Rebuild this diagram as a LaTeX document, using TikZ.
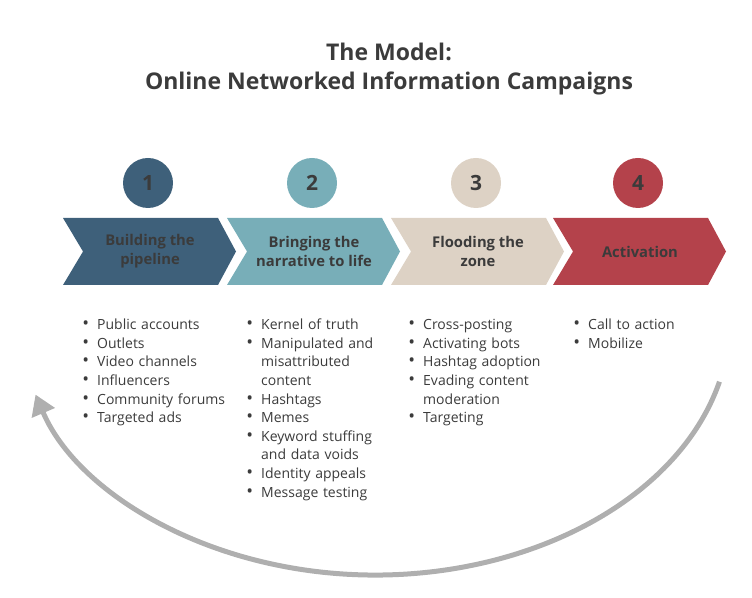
\documentclass[tikz,border=0pt]{standalone}
\usepackage{fontspec}
\setmainfont{Open Sans}
\usepackage{enumitem}
\usetikzlibrary{arrows.meta}
\definecolor{ink}{HTML}{3B3B3B}
\definecolor{stepone}{HTML}{3E607A}
\definecolor{steptwo}{HTML}{78AEB8}
\definecolor{stepthree}{HTML}{DDD2C5}
\definecolor{stepfour}{HTML}{B4424B}
\definecolor{loopgray}{HTML}{AFAFAF}
\setlist[itemize]{label={\fontsize{18}{18}\selectfont\textbullet},leftmargin=16pt,labelsep=8pt,itemsep=0pt,parsep=0pt,topsep=0pt,partopsep=0pt}
\tikzset{>=Latex,title/.style={align=center,font=\fontsize{23}{29}\selectfont\bfseries,text=ink},numdot/.style={circle,minimum size=50pt,inner sep=0pt,font=\fontsize{21}{24}\selectfont\bfseries,text=ink},chevlabel/.style={align=center,font=\fontsize{14.8}{19}\selectfont\bfseries,text=ink},bullets/.style={anchor=north west,text width=170pt,inner sep=0pt,font=\fontsize{14}{18.6}\selectfont,text=ink},cyclearrow/.style={loopgray,line width=5pt,-{Triangle[length=20pt,width=24pt]}}}

\begin{document}
\begin{tikzpicture}[x=1pt,y=1pt]
\useasboundingbox (0,0) rectangle (752,597);
\node[title] (title) at (389,528) {The Model:\\Online Networked Information Campaigns};
\foreach \x/\col/\txt [count=\i] in {63/stepone/{Building the\\pipeline},227/steptwo/{Bringing the\\narrative to life},391/stepthree/{Flooding the\\zone},553/stepfour/{Activation}}{
\fill[\col] (\x,379) -- ++(155,0) -- ++(18,-33.5) -- ++(-18,-33.5) -- ++(-155,0) -- ++(20,33.5) -- cycle;
\node[chevlabel] (step\i) at (\x+87,345.5) {\txt};
\node[numdot,fill=\col] (num\i) at (\x+85,414) {\i};
}
\node[bullets] (list1) at (81,286) {\begin{itemize}\item Public accounts\item Outlets\item Video channels\item Influencers\item Community forums\item Targeted ads\end{itemize}};
\node[bullets] (list2) at (245,286) {\begin{itemize}\item Kernel of truth\item Manipulated and\\misattributed\\content\item Hashtags\item Memes\item Keyword stuffing\\and data voids\item Identity appeals\item Message testing\end{itemize}};
\node[bullets] (list3) at (407,286) {\begin{itemize}\item Cross-posting\item Activating bots\item Hashtag adoption\item Evading content\\moderation\item Targeting\end{itemize}};
\node[bullets] (list4) at (572,286) {\begin{itemize}\item Call to action\item Mobilize\end{itemize}};
\coordinate (loopc) at (375,277);
\draw[cyclearrow] (loopc) ++(-14:355 and 255) arc[start angle=-14,end angle=-163,x radius=355,y radius=255];
\end{tikzpicture}
\end{document}
